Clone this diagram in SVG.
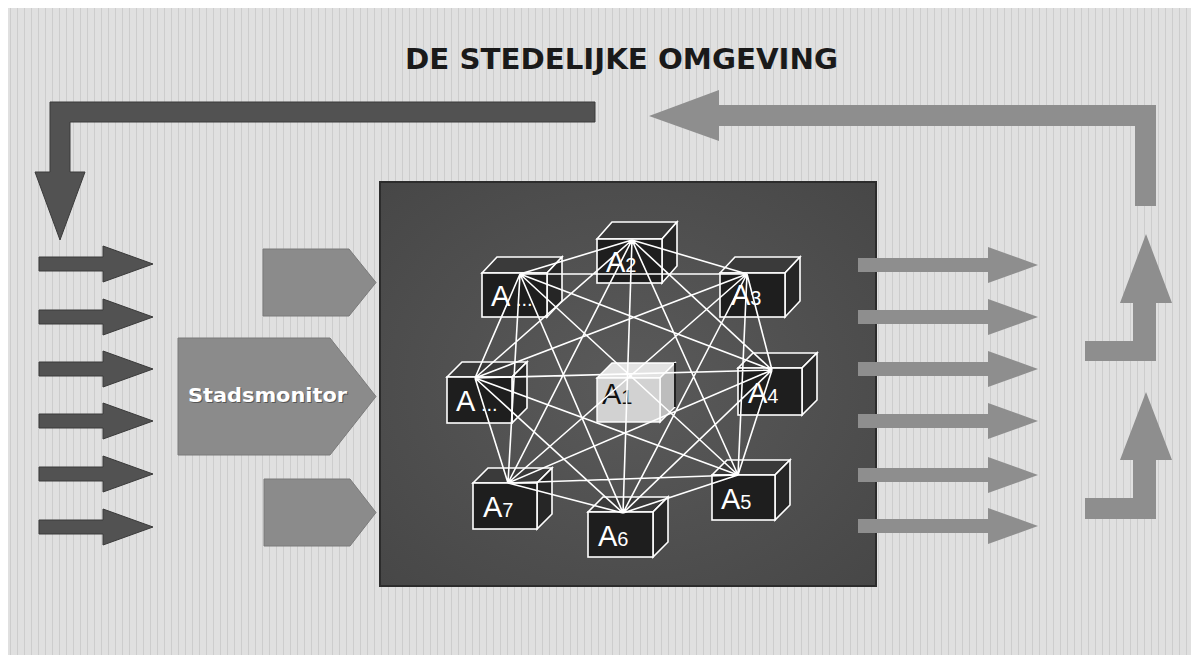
<svg xmlns="http://www.w3.org/2000/svg" width="1191" height="655" viewBox="0 0 1191 655">
<defs>
<pattern id="stripes" patternUnits="userSpaceOnUse" width="7" height="20">
<rect width="7" height="20" fill="#e0e0e0"/>
<rect x="3" width="1" height="20" fill="#cdcdcd"/>
</pattern>
<radialGradient id="panel" cx="0.5" cy="0.5" r="0.7">
<stop offset="0" stop-color="#5a5a5a"/>
<stop offset="1" stop-color="#474747"/>
</radialGradient>
<style>
.title{font-family:"DejaVu Sans",Verdana,sans-serif;font-weight:bold;font-size:28px;fill:#1a1a1a}
.sm{font-family:"DejaVu Sans",Verdana,sans-serif;font-weight:bold;font-size:19px;fill:#ffffff}
.lbl{font-family:"Liberation Sans",Arial,sans-serif;font-size:29px;fill:#ffffff}
.sub{font-size:20px}
.front{fill:#1e1e1e;stroke:#ffffff;stroke-width:1.6}
.top{fill:#3a3a3a;stroke:#ffffff;stroke-width:1.6}
.side{fill:#262626;stroke:#ffffff;stroke-width:1.6}
.cfront{fill:#d2d2d2;stroke:#ffffff;stroke-width:1.4}
.ctop{fill:#e2e2e2;stroke:#ffffff;stroke-width:1.4}
.cside{fill:#bdbdbd;stroke:#ffffff;stroke-width:1.4}
.darr{fill:#525252;stroke:#3a3a3a;stroke-width:1}
.larr{fill:#8e8e8e}
.pent{fill:#8b8b8b;stroke:#7a7a7a;stroke-width:1}
.link{stroke:#ffffff;stroke-width:1.6;fill:none}
</style>
</defs>
<rect x="0" y="0" width="1191" height="655" fill="#ffffff"/>
<rect x="8" y="8" width="1183" height="647" fill="url(#stripes)"/>

<g id="title">
<text class="title" x="405" y="69" textLength="433" lengthAdjust="spacingAndGlyphs">DE STEDELIJKE OMGEVING</text>
</g>

<g id="feedback-left">
<path class="darr" d="M595,102 H50 V172 H35 L60,240 L85,172 H70 V122 H595 Z"/>
</g>
<g id="feedback-right">
<path class="larr" d="M1156,206 V105 H719 V90 L649,116 L719,141 V126 H1135 V206 Z"/>
</g>

<g id="inputs">
<path class="darr" d="M39,257 H103 V246 L153,264 L103,282 V271 H39 Z"/>
<path class="darr" d="M39,310 H103 V299 L153,317 L103,335 V324 H39 Z"/>
<path class="darr" d="M39,362 H103 V351 L153,369 L103,387 V376 H39 Z"/>
<path class="darr" d="M39,414 H103 V403 L153,421 L103,439 V428 H39 Z"/>
<path class="darr" d="M39,467 H103 V456 L153,474 L103,492 V481 H39 Z"/>
<path class="darr" d="M39,520 H103 V509 L153,527 L103,545 V534 H39 Z"/>
</g>

<g id="source-top">
<path class="pent" d="M263,249 H349 L376,282.5 L349,316 H263 Z"/>
</g>
<g id="stadsmonitor">
<path class="pent" d="M178,338 H330 L376,396.5 L330,455 H178 Z"/>
<text class="sm" x="189" y="403" opacity="0.6" textLength="159" lengthAdjust="spacingAndGlyphs" style="fill:#333">Stadsmonitor</text>
<text class="sm" x="188" y="402" textLength="159" lengthAdjust="spacingAndGlyphs">Stadsmonitor</text>
</g>
<g id="source-bottom">
<path class="pent" d="M264,479 H350 L376,512.5 L350,546 H264 Z"/>
</g>

<g id="network-panel">
<rect x="380" y="182" width="496" height="404" fill="url(#panel)" stroke="#2c2c2c" stroke-width="2"/>
</g>

<g id="A2">
<polygon class="top" points="597,239 612,222 677,222 662,239"/>
<polygon class="side" points="662,239 677,222 677,266 662,283"/>
<rect class="front" x="597" y="239" width="65" height="44"/>
<text class="lbl" x="606" y="272">A<tspan class="sub">2</tspan></text>
</g>
<g id="A-dots-top">
<polygon class="top" points="482,273 497,257 562,257 547,273"/>
<polygon class="side" points="547,273 562,257 562,301 547,317"/>
<rect class="front" x="482" y="273" width="65" height="44"/>
<text class="lbl" x="491" y="306">A<tspan class="sub"> ...</tspan></text>
</g>
<g id="A3">
<polygon class="top" points="720,273 735,257 800,257 785,273"/>
<polygon class="side" points="785,273 800,257 800,301 785,317"/>
<rect class="front" x="720" y="273" width="65" height="44"/>
<text class="lbl" x="731" y="305">A<tspan class="sub">3</tspan></text>
</g>
<g id="A4">
<polygon class="top" points="738,368 753,353 817,353 802,368"/>
<polygon class="side" points="802,368 817,353 817,400 802,415"/>
<rect class="front" x="738" y="368" width="64" height="47"/>
<text class="lbl" x="748" y="403">A<tspan class="sub">4</tspan></text>
</g>
<g id="A-dots-left">
<polygon class="top" points="447,377 462,362 527,362 512,377"/>
<polygon class="side" points="512,377 527,362 527,408 512,423"/>
<rect class="front" x="447" y="377" width="65" height="46"/>
<text class="lbl" x="456" y="411">A<tspan class="sub"> ...</tspan></text>
</g>
<g id="A1">
<polygon class="ctop" points="597,378 612,363 675,363 660,378"/>
<polygon class="cside" points="660,378 675,363 675,407 660,422"/>
<rect class="cfront" x="597" y="378" width="63" height="44"/>
<line x1="675" y1="363" x2="675" y2="407" stroke="#222" stroke-width="2"/>
<text class="lbl" x="602" y="404" style="fill:#111">A<tspan class="sub">1</tspan></text>
</g>
<g id="A7">
<polygon class="top" points="473,483 488,468 552,468 537,483"/>
<polygon class="side" points="537,483 552,468 552,514 537,529"/>
<rect class="front" x="473" y="483" width="64" height="46"/>
<text class="lbl" x="483" y="517">A<tspan class="sub">7</tspan></text>
</g>
<g id="A6">
<polygon class="top" points="588,512 603,497 668,497 653,512"/>
<polygon class="side" points="653,512 668,497 668,542 653,557"/>
<rect class="front" x="588" y="512" width="65" height="45"/>
<text class="lbl" x="598" y="546">A<tspan class="sub">6</tspan></text>
</g>
<g id="A5">
<polygon class="top" points="712,475 727,460 790,460 775,475"/>
<polygon class="side" points="775,475 790,460 790,505 775,520"/>
<rect class="front" x="712" y="475" width="63" height="45"/>
<text class="lbl" x="721" y="509">A<tspan class="sub">5</tspan></text>
</g>

<g id="connectors">
<path class="link" d="M632,240 L520,274 M632,240 L747,274 M632,240 L772,370 M632,240 L475,378 M632,240 L508,483 M632,240 L623,513 M632,240 L738,475
M520,274 L747,274 M520,274 L772,370 M520,274 L475,378 M520,274 L508,483 M520,274 L623,513 M520,274 L738,475
M747,274 L772,370 M747,274 L475,378 M747,274 L508,483 M747,274 L623,513 M747,274 L738,475
M772,370 L475,378 M772,370 L508,483 M772,370 L623,513 M772,370 L738,475
M475,378 L508,483 M475,378 L623,513 M475,378 L738,475
M508,483 L623,513 M508,483 L738,475
M623,513 L738,475"/>
</g>

<g id="outputs">
<path class="larr" d="M858,258 H988 V247 L1038,265 L988,283 V272 H858 Z"/>
<path class="larr" d="M858,310 H988 V299 L1038,317 L988,335 V324 H858 Z"/>
<path class="larr" d="M858,362 H988 V351 L1038,369 L988,387 V376 H858 Z"/>
<path class="larr" d="M858,414 H988 V403 L1038,421 L988,439 V428 H858 Z"/>
<path class="larr" d="M858,468 H988 V457 L1038,475 L988,493 V482 H858 Z"/>
<path class="larr" d="M858,519 H988 V508 L1038,526 L988,544 V533 H858 Z"/>
</g>

<g id="up-arrow-top">
<path class="larr" d="M1085,341 H1133 V303 H1120 L1146,234 L1172,303 H1156 V361 H1085 Z"/>
</g>
<g id="up-arrow-bottom">
<path class="larr" d="M1085,498 H1133 V460 H1120 L1146,392 L1172,460 H1156 V519 H1085 Z"/>
</g>
</svg>
